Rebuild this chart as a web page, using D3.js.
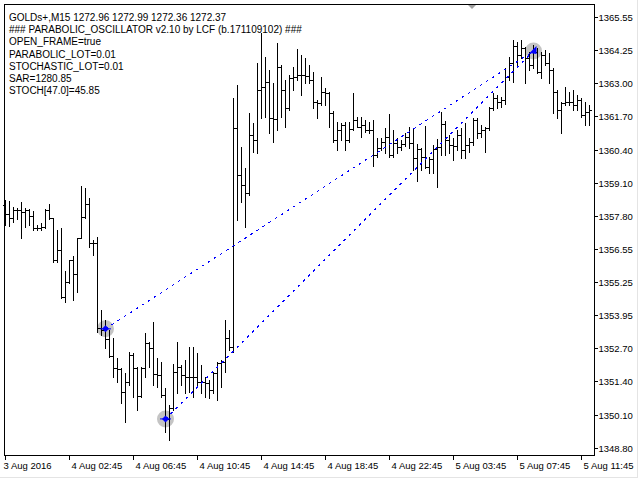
<!DOCTYPE html>
<html>
<head>
<meta charset="utf-8">
<title>GOLDs+,M15</title>
<script src="https://cdn.jsdelivr.net/npm/d3@7"></script>
<style>
    body { margin: 0; background: #ffffff; }
    .visual { position: relative; width: 640px; height: 480px; }
    svg text { font-family: "Liberation Sans", Arial, sans-serif; fill: #000000; }
</style>
</head>
<body>
<div class="visual"></div>
<script>
// M15 bars, oldest first
const barOpen = [
    1358.24, 1357.89, 1357.74, 1358.05, 1358.05, 1357.97, 1358.05, 1357.82, 1357.35, 1357.35,
    1357.39, 1358.05, 1357.74, 1356.11, 1356.50, 1354.67, 1355.25, 1356.11, 1355.56, 1356.96,
    1357.78, 1358.28, 1356.77, 1356.77, 1353.46, 1353.39, 1353.04, 1352.38, 1351.91, 1351.87,
    1350.98, 1351.37, 1352.41, 1351.91, 1350.82, 1351.91, 1352.88, 1352.69, 1351.68, 1351.64,
    1350.86, 1349.93, 1350.35, 1351.75, 1351.95, 1351.64, 1351.56, 1351.56, 1351.56, 1351.37,
    1351.37, 1351.33, 1351.05, 1351.72, 1352.10, 1352.14, 1353.08, 1352.73, 1361.24, 1359.41,
    1359.02, 1358.71, 1360.96, 1360.77, 1362.71, 1362.83, 1363.02, 1361.62, 1361.59, 1363.61,
    1362.71, 1362.01, 1363.18, 1363.22, 1363.30, 1363.30, 1363.26, 1363.10, 1362.25, 1362.21,
    1362.63, 1362.60, 1361.82, 1360.77, 1361.16, 1361.35, 1360.77, 1361.20, 1361.55, 1361.27,
    1361.35, 1361.16, 1361.16, 1360.19, 1360.46, 1360.69, 1360.89, 1360.19, 1360.65, 1360.50,
    1360.61, 1360.89, 1360.65, 1360.07, 1360.42, 1360.11, 1359.72, 1360.03, 1360.42, 1360.50,
    1361.39, 1360.77, 1360.57, 1360.54, 1360.96, 1360.38, 1360.57, 1360.69, 1361.55, 1361.04,
    1361.16, 1361.24, 1362.01, 1362.40, 1362.25, 1362.32, 1363.22, 1363.76, 1364.42, 1364.07,
    1364.34, 1363.96, 1363.68, 1364.19, 1363.41, 1364.07, 1363.76, 1363.49, 1362.63, 1361.94,
    1362.21, 1362.25, 1362.25, 1362.13, 1362.32, 1361.74, 1361.86
];
const barHigh = [
    1358.44, 1358.40, 1358.17, 1358.13, 1358.36, 1358.13, 1358.09, 1358.01, 1357.47, 1357.54,
    1358.09, 1358.28, 1357.74, 1357.27, 1357.35, 1355.68, 1356.11, 1356.26, 1356.96, 1358.98,
    1358.90, 1358.52, 1356.88, 1357.00, 1354.16, 1353.78, 1353.39, 1353.08, 1352.30, 1351.91,
    1351.72, 1352.53, 1352.49, 1351.95, 1351.95, 1353.27, 1352.92, 1353.70, 1352.30, 1352.14,
    1351.13, 1350.47, 1352.07, 1352.92, 1352.03, 1352.22, 1352.73, 1352.73, 1352.49, 1352.03,
    1351.56, 1351.44, 1351.75, 1352.14, 1352.22, 1353.78, 1353.39, 1362.40, 1362.91, 1360.50,
    1359.68, 1361.82, 1361.43, 1363.76, 1364.93, 1364.00, 1363.49, 1362.98, 1364.54, 1363.68,
    1363.10, 1363.30, 1363.61, 1364.31, 1364.07, 1363.96, 1363.68, 1363.41, 1362.32, 1363.22,
    1362.79, 1362.63, 1361.90, 1361.47, 1361.43, 1361.47, 1361.47, 1362.60, 1361.66, 1361.66,
    1361.55, 1361.47, 1361.55, 1360.85, 1360.85, 1361.24, 1361.78, 1361.16, 1360.85, 1360.77,
    1361.04, 1361.27, 1361.24, 1360.61, 1360.46, 1361.31, 1360.11, 1360.57, 1360.81, 1361.86,
    1361.51, 1360.96, 1360.85, 1361.16, 1361.24, 1361.43, 1360.85, 1361.62, 1361.62, 1361.35,
    1361.27, 1362.05, 1362.60, 1362.52, 1362.44, 1363.57, 1364.00, 1364.66, 1364.58, 1364.66,
    1364.38, 1364.19, 1364.46, 1364.34, 1364.19, 1364.27, 1364.15, 1363.57, 1362.71, 1362.25,
    1362.83, 1362.63, 1362.71, 1362.52, 1362.40, 1362.25, 1362.13
];
const barLow = [
    1357.47, 1357.43, 1357.58, 1357.70, 1356.96, 1357.39, 1357.47, 1357.27, 1357.27, 1357.27,
    1357.35, 1357.70, 1356.03, 1356.03, 1354.63, 1354.47, 1355.21, 1354.55, 1354.86, 1356.96,
    1357.74, 1356.61, 1356.30, 1353.31, 1353.19, 1352.69, 1352.34, 1351.56, 1351.37, 1350.55,
    1349.81, 1351.25, 1350.78, 1350.28, 1350.78, 1351.56, 1351.95, 1351.25, 1351.17, 1350.78,
    1349.42, 1349.11, 1350.28, 1350.94, 1351.25, 1350.94, 1350.98, 1350.78, 1351.17, 1350.94,
    1350.78, 1350.74, 1350.94, 1350.67, 1351.17, 1351.75, 1352.61, 1352.53, 1357.66, 1358.36,
    1357.39, 1358.63, 1360.30, 1360.26, 1361.62, 1361.66, 1361.04, 1360.69, 1361.16, 1361.66,
    1361.27, 1361.94, 1362.71, 1363.10, 1362.52, 1362.98, 1362.98, 1362.01, 1361.62, 1362.13,
    1362.13, 1361.27, 1360.69, 1360.38, 1360.77, 1360.38, 1360.69, 1361.16, 1361.27, 1360.89,
    1361.08, 1361.04, 1359.76, 1360.11, 1360.38, 1360.26, 1360.11, 1360.11, 1360.26, 1360.38,
    1360.54, 1360.46, 1359.60, 1359.18, 1359.60, 1359.68, 1359.49, 1359.49, 1358.94, 1360.19,
    1360.19, 1360.26, 1359.99, 1360.38, 1360.07, 1360.07, 1360.30, 1360.57, 1360.85, 1360.89,
    1360.30, 1361.16, 1361.94, 1362.01, 1362.05, 1362.17, 1363.10, 1363.02, 1363.68, 1363.96,
    1362.98, 1363.49, 1363.57, 1363.37, 1363.18, 1363.68, 1362.98, 1361.82, 1361.62, 1361.04,
    1362.13, 1362.13, 1361.94, 1361.94, 1361.66, 1361.35, 1361.35
];
const barClose = [
    1357.89, 1357.74, 1358.05, 1358.05, 1357.97, 1358.05, 1357.82, 1357.35, 1357.35, 1357.39,
    1358.05, 1357.74, 1356.11, 1356.50, 1354.67, 1355.25, 1356.11, 1355.56, 1356.96, 1357.78,
    1358.28, 1356.77, 1356.77, 1353.46, 1353.39, 1353.04, 1352.38, 1351.91, 1351.87, 1350.98,
    1351.37, 1352.41, 1351.91, 1350.82, 1351.91, 1352.88, 1352.69, 1351.68, 1351.64, 1350.86,
    1349.93, 1350.35, 1351.75, 1351.95, 1351.64, 1351.56, 1351.56, 1351.56, 1351.37, 1351.37,
    1351.33, 1351.05, 1351.72, 1352.10, 1352.14, 1353.08, 1352.73, 1361.24, 1359.41, 1359.02,
    1358.71, 1360.96, 1360.77, 1362.71, 1362.83, 1363.02, 1361.62, 1361.59, 1363.61, 1362.71,
    1362.01, 1363.18, 1363.22, 1363.30, 1363.30, 1363.26, 1363.10, 1362.25, 1362.21, 1362.63,
    1362.60, 1361.82, 1360.77, 1361.16, 1361.35, 1360.77, 1361.20, 1361.55, 1361.27, 1361.35,
    1361.16, 1361.16, 1360.19, 1360.46, 1360.69, 1360.89, 1360.19, 1360.65, 1360.50, 1360.61,
    1360.89, 1360.65, 1360.07, 1360.42, 1360.11, 1359.72, 1360.03, 1360.42, 1360.50, 1361.39,
    1360.77, 1360.57, 1360.54, 1360.96, 1360.38, 1360.57, 1360.69, 1361.55, 1361.04, 1361.16,
    1361.24, 1362.01, 1362.40, 1362.25, 1362.32, 1363.22, 1363.76, 1364.42, 1364.07, 1364.34,
    1363.96, 1363.68, 1364.19, 1363.41, 1364.07, 1363.76, 1363.49, 1362.63, 1361.94, 1362.21,
    1362.25, 1362.25, 1362.13, 1362.32, 1361.74, 1361.86, 1361.94
];

const priceTicks = [1365.55, 1364.25, 1363.00, 1361.70, 1360.40, 1359.10, 1357.80,
                    1356.55, 1355.25, 1353.95, 1352.70, 1351.40, 1350.10, 1348.80];

const timeLabels = ["3 Aug 2016", "4 Aug 02:45", "4 Aug 06:45", "4 Aug 10:45", "4 Aug 14:45",
                    "4 Aug 18:45", "4 Aug 22:45", "5 Aug 03:45", "5 Aug 07:45", "5 Aug 11:45"];
const timeLabelBars = [0, 16, 32, 48, 64, 80, 96, 112, 128, 144];

// signal points of the oscillator (bar index, price)
const signalBars = [25, 40, 132];
const signalPrices = [1353.43, 1349.93, 1364.23];
const signalKinds = ["buy", "buy", "sell"];

const commentLines = [
    "GOLDs+,M15  1272.96 1272.99 1272.36 1272.37",
    "### PARABOLIC_OSCILLATOR v2.10 by LCF (b.171109102) ###",
    "OPEN_FRAME=true",
    "PARABOLIC_LOT=0.01",
    "STOCHASTIC_LOT=0.01",
    "SAR=1280.85",
    "STOCH[47.0]=45.85"
];

function display() {
    const width = 640, height = 480;
    const frameL = 4.5, frameT = 4.5, frameR = 594.5, frameB = 455.5;

    const svg = d3.select(".visual")
        .append("svg")
        .attr("width", width)
        .attr("height", height);

    svg.append("rect")
        .attr("width", width)
        .attr("height", height)
        .attr("fill", "#ffffff");

    const x = d3.scaleLinear().domain([0, barOpen.length - 1]).range([5.5, 5.5 + 4 * (barOpen.length - 1)]);
    const y = d3.scaleLinear().domain([1348.80, 1365.55]).range([448, 17]);
    const row = v => Math.round(y(v)) + 0.5;

    const bars = d3.range(barOpen.length).map(i => ({
        i: i, o: barOpen[i], h: barHigh[i], l: barLow[i], c: barClose[i]
    }));

    // grey rings behind the signal bars
    const signals = signalBars.map((b, k) => ({ b: b, p: signalPrices[k], kind: signalKinds[k] }));
    svg.append("g").selectAll("circle")
        .data(signals)
        .enter()
        .append("circle")
        .attr("cx", d => x(d.b))
        .attr("cy", d => y(d.p))
        .attr("r", 8.5)
        .attr("fill", "#c4c4c4");

    const barG = svg.append("g")
        .attr("stroke", "#000000")
        .attr("stroke-width", 1)
        .attr("shape-rendering", "crispEdges");

    barG.selectAll("line.hl")
        .data(bars)
        .enter()
        .append("line")
        .attr("class", "hl")
        .attr("x1", d => x(d.i))
        .attr("x2", d => x(d.i))
        .attr("y1", d => Math.round(y(d.h)))
        .attr("y2", d => Math.round(y(d.l)) + 1);

    barG.selectAll("line.op")
        .data(bars)
        .enter()
        .append("line")
        .attr("class", "op")
        .attr("x1", d => x(d.i) - 2.5)
        .attr("x2", d => x(d.i))
        .attr("y1", d => row(d.o))
        .attr("y2", d => row(d.o));

    barG.selectAll("line.cl")
        .data(bars)
        .enter()
        .append("line")
        .attr("class", "cl")
        .attr("x1", d => x(d.i))
        .attr("x2", d => x(d.i) + 2.5)
        .attr("y1", d => row(d.c))
        .attr("y2", d => row(d.c));

    // dotted links from both buy points to the sell point
    const target = signals[2];
    svg.append("g").selectAll("line")
        .data(signals.slice(0, 2))
        .enter()
        .append("line")
        .attr("x1", d => x(d.b))
        .attr("y1", d => y(d.p))
        .attr("x2", x(target.b))
        .attr("y2", y(target.p))
        .attr("stroke", "#0000ff")
        .attr("stroke-width", 1)
        .attr("stroke-dasharray", "2.5,4.7")
        .attr("shape-rendering", "crispEdges");

    const arrows = svg.append("g").attr("fill", "#0000ff");
    signals.forEach(d => {
        const cx = x(d.b), cy = y(d.p);
        if (d.kind === "buy") {
            arrows.append("path")
                .attr("d", `M${cx - 3.5},${cy} L${cx},${cy - 3.5} L${cx + 3.5},${cy} L${cx},${cy + 3.5} Z`);
            arrows.append("rect")
                .attr("x", cx - 5.5).attr("y", cy - 0.5)
                .attr("width", 11).attr("height", 1);
        } else {
            arrows.append("path")
                .attr("d", `M${cx + 3},${cy - 5} L${cx + 3},${cy + 3} L${cx - 4},${cy + 2} Z`);
        }
    });

    // frame
    svg.append("rect")
        .attr("x", frameL)
        .attr("y", frameT)
        .attr("width", frameR - frameL)
        .attr("height", frameB - frameT)
        .attr("fill", "none")
        .attr("stroke", "#000000")
        .attr("shape-rendering", "crispEdges");

    // chart shift marker
    svg.append("path")
        .attr("d", "M468,5 L476,5 L472,9 Z")
        .attr("fill", "#a0a0a0");

    // window edge
    svg.append("path")
        .attr("d", "M637.5,0 V477.5 H0")
        .attr("fill", "none")
        .attr("stroke", "#e4e4e4")
        .attr("shape-rendering", "crispEdges");

    // price scale
    const priceG = svg.append("g")
        .attr("shape-rendering", "crispEdges");
    priceG.selectAll("line")
        .data(priceTicks)
        .enter()
        .append("line")
        .attr("x1", frameR + 0.5)
        .attr("x2", frameR + 3.5)
        .attr("y1", d => row(d))
        .attr("y2", d => row(d))
        .attr("stroke", "#000000");
    priceG.selectAll("text")
        .data(priceTicks)
        .enter()
        .append("text")
        .attr("x", frameR + 4)
        .attr("y", d => row(d))
        .attr("dy", "0.35em")
        .style("font-size", "9.5px")
        .text(d => d.toFixed(2));

    // time scale
    const timeG = svg.append("g")
        .attr("shape-rendering", "crispEdges");
    timeG.selectAll("line")
        .data(timeLabelBars)
        .enter()
        .append("line")
        .attr("x1", d => x(d))
        .attr("x2", d => x(d))
        .attr("y1", frameB + 0.5)
        .attr("y2", frameB + 4.5)
        .attr("stroke", "#000000");
    timeG.selectAll("text")
        .data(timeLabelBars)
        .enter()
        .append("text")
        .attr("x", (d, k) => k === 0 ? x(d) - 2 : x(d) + 2)
        .attr("y", 469)
        .style("font-size", "9.5px")
        .text((d, k) => timeLabels[k]);

    // expert comment block
    svg.append("g").selectAll("text")
        .data(commentLines)
        .enter()
        .append("text")
        .attr("x", 9)
        .attr("y", (d, k) => 21 + k * 12.2)
        .style("font-size", "10px")
        .text(d => d);
}

window.onload = function() {
    display();
};
</script>
</body>
</html>
